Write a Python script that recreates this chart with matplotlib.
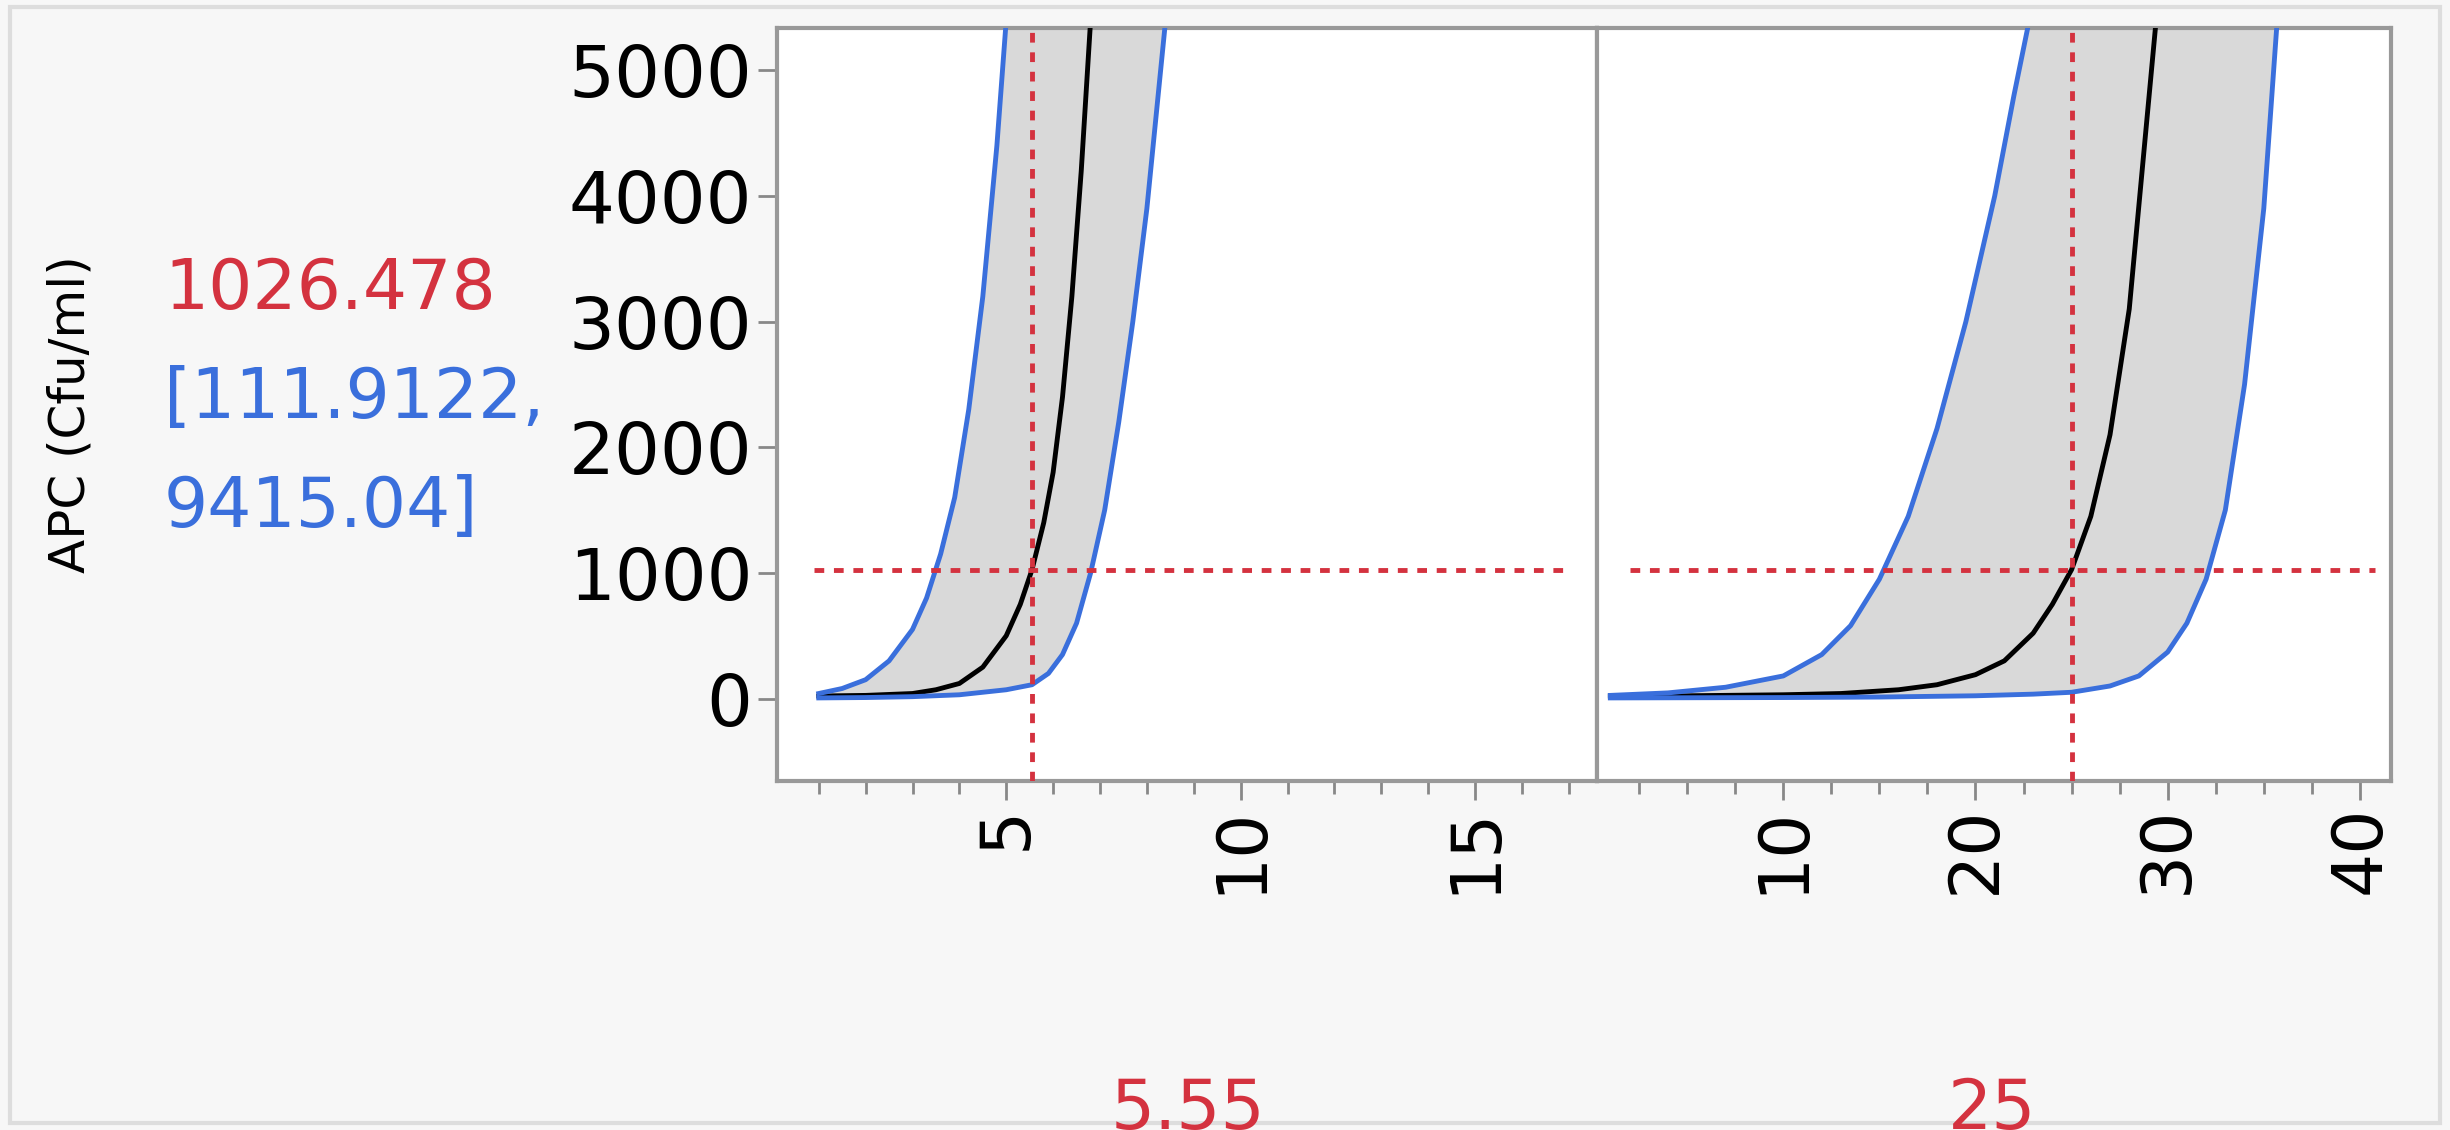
import numpy as np
import matplotlib.pyplot as plt
from matplotlib.ticker import MultipleLocator

# read-off values, Days panel
days_x = [1, 2, 3, 3.5, 4, 4.5, 5, 5.3, 5.55, 5.8, 6, 6.2, 6.4, 6.6, 6.8]
days_mean = [20, 25, 40, 70, 120, 250, 500, 750, 1026, 1400, 1800, 2400, 3200, 4200, 5400]
days_hi_x = [1, 1.5, 2, 2.5, 3, 3.3, 3.6, 3.9, 4.2, 4.5, 4.8, 5.0]
days_hi = [40, 80, 150, 300, 550, 800, 1150, 1600, 2300, 3200, 4400, 5400]
days_lo_x = [1, 2, 3, 4, 5, 5.55, 5.9, 6.2, 6.5, 6.8, 7.1, 7.4, 7.7, 8.0, 8.4]
days_lo = [5, 8, 15, 30, 70, 110, 200, 350, 600, 1000, 1500, 2200, 3000, 3900, 5400]

# Temperature panel
temp_x = [1, 5, 10, 13, 16, 18, 20, 21.5, 23, 24, 25, 26, 27, 28, 29.4]
temp_mean = [20, 22, 30, 40, 70, 110, 190, 300, 520, 750, 1026, 1450, 2100, 3100, 5400]
temp_hi_x = [1, 4, 7, 10, 12, 13.5, 15, 16.5, 18, 19.5, 21, 22, 22.8]
temp_hi = [25, 45, 90, 180, 350, 580, 950, 1450, 2150, 3000, 4000, 4800, 5400]
temp_lo_x = [1, 10, 15, 20, 23, 25, 27, 28.5, 30, 31, 32, 33, 34, 35, 35.7]
temp_lo = [5, 8, 12, 22, 35, 50, 100, 180, 370, 600, 950, 1500, 2500, 3900, 5400]

pred, ci_lo, ci_hi = 1026.478, 111.9122, 9415.04
x_days, x_temp = 5.55, 25

red = '#d4323f'
blue = '#3a6fdc'

W, H = 1568, 723  # layout measured on this grid


def fx(x):
    return x / W


def fy(y):
    return 1 - y / H


fig = plt.figure(figsize=(24.5, 11.3), dpi=100, facecolor='#f7f7f7')
ax1 = fig.add_axes([fx(497), fy(500), (1022 - 497) / W, 482 / H])
ax2 = fig.add_axes([fx(1022), fy(500), (1530 - 1022) / W, 482 / H], sharey=ax1)

panels = [
    (ax1, days_x, days_mean, days_hi_x, days_hi, days_lo_x, days_lo, x_days,
     (0.1, 17.6), [5, 10, 15], 1.0, (0.9, 17.0)),
    (ax2, temp_x, temp_mean, temp_hi_x, temp_hi, temp_lo_x, temp_lo, x_temp,
     (0.3, 41.6), [10, 20, 30, 40], 2.5, (2.0, 40.8)),
]
for ax, mx, my, hx, hy, lx, ly, xv, xlim, ticks, minor, hline in panels:
    grid = np.linspace(min(mx), max(lx), 600)
    upper = np.interp(grid, hx, hy, right=np.nan)
    lower = np.interp(grid, lx, ly)
    ax.fill_between(grid, lower, np.where(np.isnan(upper), 6000, upper),
                    color='#d9d9d9', zorder=1)
    ax.plot(mx, my, color='black', lw=3.5, zorder=3)
    ax.plot(hx, hy, color=blue, lw=3.5, zorder=3)
    ax.plot(lx, ly, color=blue, lw=3.5, zorder=3)
    ax.axvline(xv, color=red, ls=(0, (2, 2)), lw=3.5, zorder=4)
    ax.plot(hline, [pred, pred], color=red, ls=(0, (2, 2)), lw=3.5, zorder=4)
    ax.set_xlim(*xlim)
    ax.set_facecolor('white')
    ax.set_xticks(ticks)
    ax.xaxis.set_minor_locator(MultipleLocator(minor))
    ax.tick_params(axis='x', labelsize=50, rotation=90, length=14, width=2, color='#888888')
    ax.tick_params(axis='x', which='minor', length=9, width=2, color='#888888')
    for s in ax.spines.values():
        s.set_color('#999999')
        s.set_linewidth(3)

ax1.set_ylim(-660, 5336)
ax1.set_yticks([0, 1000, 2000, 3000, 4000, 5000])
ax1.tick_params(axis='y', labelsize=52, length=14, width=2, color='#888888')
ax2.tick_params(axis='y', left=False, labelleft=False)

for xc, val, name in [(760, str(x_days), 'Days'), (1275, str(x_temp), 'Temperature (°C)')]:
    fig.text(fx(xc), fy(710), val, color=red, fontsize=50, ha='center', va='center')
    fig.text(fx(xc), fy(800), name, color='black', fontsize=50, ha='center', va='center')

fig.text(fx(45), fy(265), 'APC (Cfu/ml)', rotation=90, fontsize=36, ha='center', va='center')
fig.text(fx(105), fy(185), f'{pred}', color=red, fontsize=50, va='center')
fig.text(fx(105), fy(255), f'[{ci_lo},', color=blue, fontsize=50, va='center')
fig.text(fx(105), fy(325), f'{ci_hi}]', color=blue, fontsize=50, va='center')

border = plt.Rectangle((0.004, 0.006), 0.992, 0.988, transform=fig.transFigure,
                       fill=False, edgecolor='#dddddd', lw=3)
fig.patches.append(border)

fig.savefig('out.png', dpi=100, facecolor=fig.get_facecolor())
